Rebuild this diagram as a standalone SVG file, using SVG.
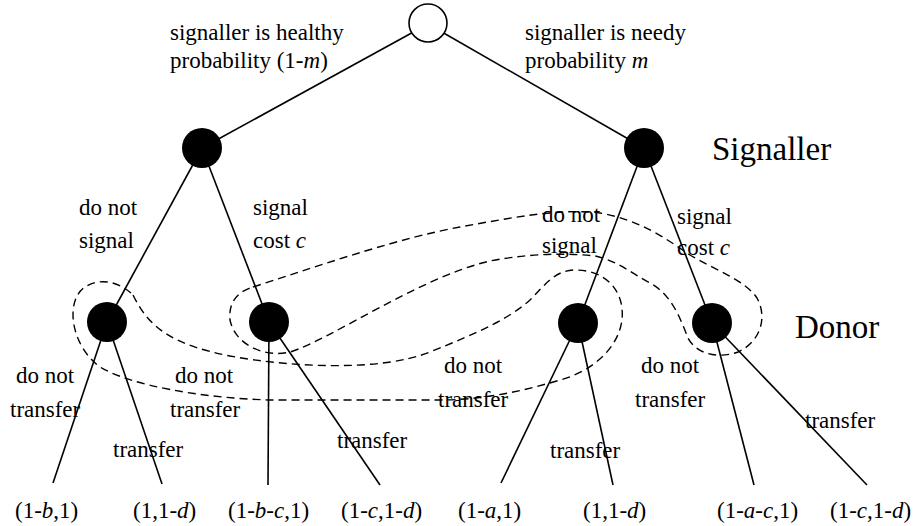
<svg xmlns="http://www.w3.org/2000/svg" width="913" height="526" viewBox="0 0 913 526">
<style>
text{font-family:"Liberation Serif","DejaVu Serif","Times New Roman",serif;font-size:23px;fill:#000}
.big{font-size:33px}
.i{font-style:italic}
.e{stroke:#000;stroke-width:1.6;fill:none}
.info{stroke:#000;stroke-width:1.4;fill:none;stroke-dasharray:8 5}
.dec{fill:#000}
.chance{fill:#fff;stroke:#000;stroke-width:1.6}
</style>
<rect width="913" height="526" fill="#fff"/>
<g id="connectors">
<line class="e" x1="428" y1="24" x2="202" y2="148"/>
<line class="e" x1="428" y1="24" x2="644" y2="148"/>
<line class="e" x1="202" y1="148" x2="107" y2="322"/>
<line class="e" x1="202" y1="148" x2="269" y2="322"/>
<line class="e" x1="644" y1="148" x2="578" y2="323"/>
<line class="e" x1="644" y1="148" x2="712" y2="323"/>
<line class="e" x1="107" y1="322" x2="53" y2="483"/>
<line class="e" x1="107" y1="322" x2="162" y2="484"/>
<line class="e" x1="269" y1="322" x2="268" y2="485"/>
<line class="e" x1="269" y1="322" x2="380" y2="485"/>
<line class="e" x1="578" y1="323" x2="501" y2="483"/>
<line class="e" x1="578" y1="323" x2="613" y2="485"/>
<line class="e" x1="712" y1="323" x2="754" y2="485"/>
<line class="e" x1="712" y1="323" x2="867" y2="485"/>
</g>
<g id="info-sets">
<path id="info-nosignal" class="info" d="M 133,295 C 150,330 175,345 230,356 C 290,367 380,372 430,352 C 480,332 510,318 530,300 C 545,285 555,270 575,270 C 605,270 625,290 622,320 C 618,350 590,372 560,380 C 520,392 480,400 440,400 L 270,400 C 200,398 130,385 100,367 C 70,345 65,300 85,287 C 100,277 120,282 133,295 Z"/>
<path id="info-signal" class="info" d="M 253,287 C 330,262 400,238 460,227 C 510,218 560,208 600,213 C 640,220 665,238 690,255 C 715,270 745,280 757,298 C 768,318 760,342 738,352 C 715,360 695,352 688,338 C 680,318 672,295 650,283 C 630,272 615,260 595,256 C 560,252 520,255 490,261 C 420,277 330,340 290,352 C 265,358 235,345 230,320 C 228,300 240,291 253,287 Z"/>
</g>
<g id="root"><circle class="chance" cx="428" cy="23" r="19"/></g>
<g id="signaller-healthy"><circle class="dec" cx="202" cy="148" r="20"/></g>
<g id="signaller-needy"><circle class="dec" cx="644" cy="148" r="20"/></g>
<g id="donor-1"><circle class="dec" cx="107" cy="322" r="20"/></g>
<g id="donor-2"><circle class="dec" cx="269" cy="322" r="20"/></g>
<g id="donor-3"><circle class="dec" cx="578" cy="323" r="20"/></g>
<g id="donor-4"><circle class="dec" cx="712" cy="323" r="20"/></g>
<g id="labels">
<text x="170" y="40">signaller is healthy</text>
<text x="170" y="68">probability (1-<tspan class="i">m</tspan>)</text>
<text x="525" y="40">signaller is needy</text>
<text x="525" y="68">probability <tspan class="i">m</tspan></text>
<text class="big" x="712" y="160">Signaller</text>
<text class="big" x="795" y="338">Donor</text>
<text x="79" y="215">do not</text>
<text x="79" y="248">signal</text>
<text x="253" y="215">signal</text>
<text x="253" y="248">cost <tspan class="i">c</tspan></text>
<text x="542" y="222">do not</text>
<text x="542" y="253">signal</text>
<text x="677" y="224">signal</text>
<text x="677" y="255">cost <tspan class="i">c</tspan></text>
<text x="16" y="383">do not</text>
<text x="10" y="417">transfer</text>
<text x="175" y="383">do not</text>
<text x="170" y="417">transfer</text>
<text x="113" y="457">transfer</text>
<text x="337" y="448">transfer</text>
<text x="444" y="373">do not</text>
<text x="438" y="407">transfer</text>
<text x="550" y="458">transfer</text>
<text x="641" y="373">do not</text>
<text x="635" y="407">transfer</text>
<text x="805" y="428">transfer</text>
<text x="15" y="518">(1-<tspan class="i">b</tspan>,1)</text>
<text x="133" y="518">(1,1-<tspan class="i">d</tspan>)</text>
<text x="228" y="518">(1-<tspan class="i">b</tspan>-<tspan class="i">c</tspan>,1)</text>
<text x="341" y="518">(1-<tspan class="i">c</tspan>,1-<tspan class="i">d</tspan>)</text>
<text x="458" y="518">(1-<tspan class="i">a</tspan>,1)</text>
<text x="583" y="518">(1,1-<tspan class="i">d</tspan>)</text>
<text x="717" y="518">(1-<tspan class="i">a</tspan>-<tspan class="i">c</tspan>,1)</text>
<text x="830" y="518">(1-<tspan class="i">c</tspan>,1-<tspan class="i">d</tspan>)</text>
</g>
</svg>
